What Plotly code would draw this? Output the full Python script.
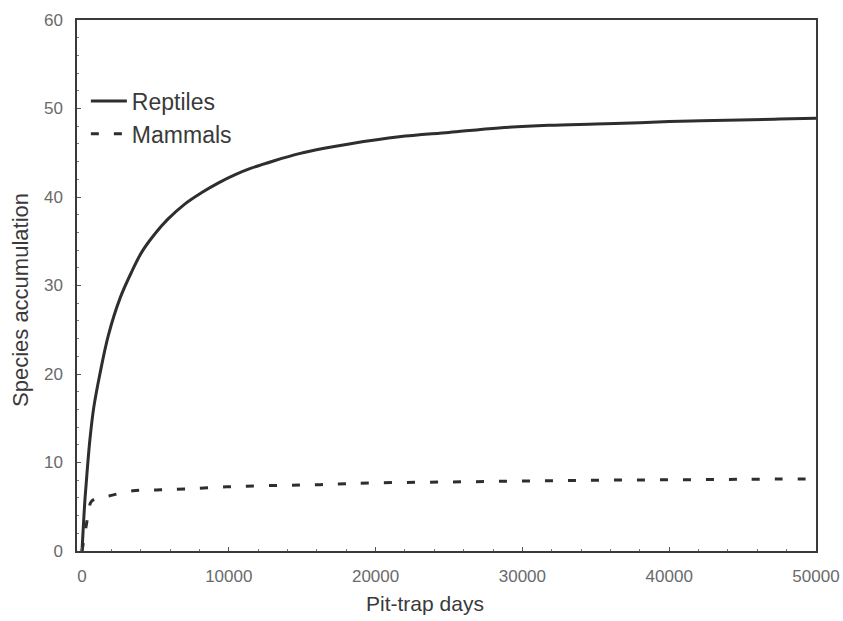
import plotly.graph_objects as go

# Species accumulation curves (pit-trap days vs. cumulative species)
reptile_days = [0, 100, 200, 350, 540, 800, 1220, 1800, 2600, 3400, 4080, 5000, 5850,
                7000, 8160, 9300, 10400, 11430, 13100, 14800, 16500, 18200, 21600,
                25000, 28400, 31800, 35000, 38000, 41500, 44800, 47500, 50000]
reptile_species = [0, 3.0, 5.8, 9.0, 12.6, 16.2, 20.0, 24.4, 28.6, 31.6, 33.8, 35.9, 37.5,
                   39.2, 40.5, 41.6, 42.5, 43.2, 44.1, 44.9, 45.5, 46.0, 46.8,
                   47.3, 47.8, 48.1, 48.25, 48.4, 48.6, 48.7, 48.8, 48.9]

mammal_days = [0, 150, 300, 450, 600, 900, 1770, 3470, 5100, 7000, 9860, 13000,
               16200, 20000, 25000, 30000, 35000, 40000, 45000, 50000]
mammal_species = [0, 1.5, 3.0, 4.4, 5.5, 5.9, 6.2, 6.8, 6.9, 7.0, 7.25, 7.4,
                  7.5, 7.7, 7.8, 7.9, 8.0, 8.05, 8.1, 8.15]

x_ticks = [0, 10000, 20000, 30000, 40000, 50000]
y_ticks = [0, 10, 20, 30, 40, 50, 60]

ink = "#2e2e2e"
tick_grey = "#6a6a6a"
label_grey = "#3a3a3a"

fig = go.Figure()
fig.add_trace(go.Scatter(
    x=reptile_days, y=reptile_species, mode="lines", name="Reptiles",
    line=dict(color=ink, width=3, shape="spline", smoothing=1.0),
))
fig.add_trace(go.Scatter(
    x=mammal_days, y=mammal_species, mode="lines", name="Mammals",
    line=dict(color=ink, width=3, dash="8px,15px", shape="spline", smoothing=1.0),
))

axis_common = dict(
    showgrid=False, zeroline=False, showline=True, linecolor="#3a3a3a",
    linewidth=1.5, mirror=True, ticks="inside", ticklen=4, tickcolor="#555",
    automargin=False,
    tickfont=dict(family="Liberation Sans Narrow, Liberation Sans, Arial", size=17,
                  color=tick_grey),
)

fig.update_xaxes(range=[-340, 50000], tickvals=x_ticks,
                 ticktext=[str(v) for v in x_ticks], ticklabelstandoff=9,
                 minor=dict(ticks="inside", ticklen=2, dtick=2000, tickcolor="#777"),
                 **axis_common)
fig.update_yaxes(range=[0, 60], tickvals=y_ticks,
                 ticktext=[str(v) for v in y_ticks], ticklabelstandoff=9,
                 minor=dict(ticks="inside", ticklen=2, dtick=2, tickcolor="#777"),
                 **axis_common)

# Pixel positions of the axis titles, converted to paper fractions below
left, right, top, bottom = 77, 27, 20, 70
plot_w = 843 - left - right
plot_h = 621 - top - bottom


def px_to_paper(px, py):
    return (px - left) / plot_w, (621 - bottom - py) / plot_h


yt_x, yt_y = px_to_paper(20, 300)
xt_x, xt_y = px_to_paper(425, 603)

fig.update_layout(
    width=843, height=621,
    margin=dict(l=left, r=right, t=top, b=bottom),
    paper_bgcolor="white", plot_bgcolor="white",
    showlegend=True,
    legend=dict(
        x=0.012, y=0.888, xanchor="left", yanchor="top",
        bgcolor="rgba(0,0,0,0)", itemwidth=36, tracegroupgap=0,
        font=dict(family="Liberation Sans, Arial", size=23, color=label_grey),
    ),
    annotations=[
        dict(text="Species accumulation", x=yt_x, y=yt_y, xref="paper", yref="paper",
             xanchor="center", yanchor="middle", showarrow=False, textangle=-90,
             font=dict(family="Liberation Sans, Arial", size=22, color=label_grey)),
        dict(text="Pit-trap days", x=xt_x, y=xt_y, xref="paper", yref="paper",
             xanchor="center", yanchor="middle", showarrow=False,
             font=dict(family="Liberation Sans, Arial", size=21, color=label_grey)),
    ],
)

fig.write_html("out.html")
